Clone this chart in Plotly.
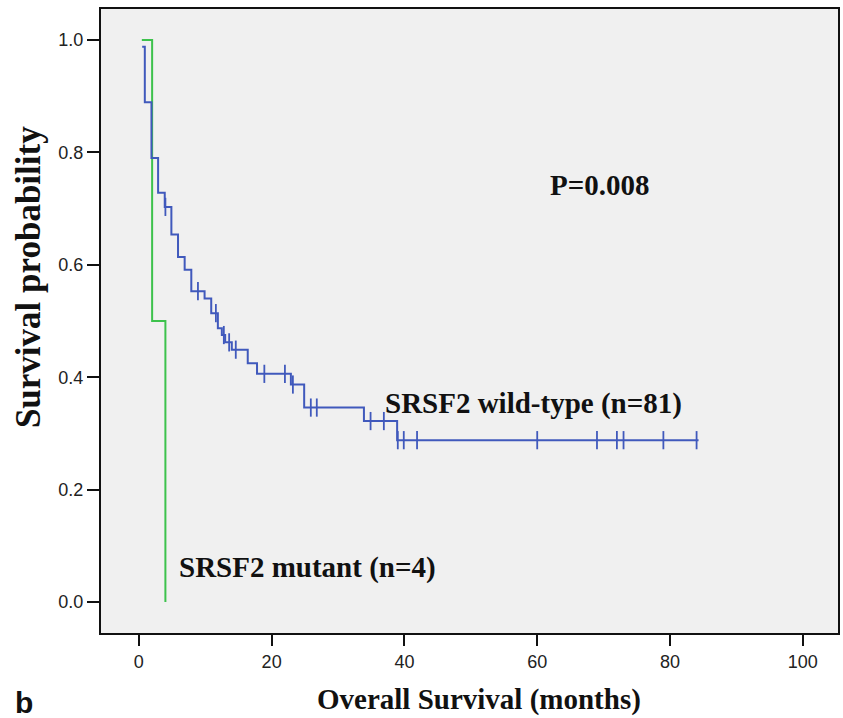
import plotly.graph_objects as go

# Kaplan-Meier step data
wt_times = [0.5, 0.9, 1.9, 2.9, 3.9, 4.9, 5.9, 6.9, 7.9, 9.9, 10.9, 11.9, 12.5, 13.0, 14.0, 16.4, 17.8, 22.9, 24.9, 33.9, 38.9, 84.3]
wt_surv = [0.988, 0.889, 0.790, 0.728, 0.703, 0.654, 0.614, 0.591, 0.553, 0.540, 0.514, 0.487, 0.475, 0.462, 0.449, 0.425, 0.406, 0.387, 0.346, 0.322, 0.288, 0.288]
wt_censor = [4.0, 8.9, 11.6, 12.8, 13.6, 14.6, 18.9, 22.0, 23.2, 25.9, 26.8, 34.9, 36.9, 39.0, 39.9, 41.9, 60.0, 69.0, 72.0, 73.0, 79.0, 84.0]

mt_times = [0.45, 2.0, 4.0]
mt_surv = [1.0, 0.5, 0.0]

x_ticks = [0, 20, 40, 60, 80, 100]
y_ticks = [0.0, 0.2, 0.4, 0.6, 0.8, 1.0]

BLUE = "#4059BC"
GREEN = "#3DC24C"


def step_at(t, times, surv):
    s = surv[0]
    for ti, si in zip(times, surv):
        if ti <= t:
            s = si
    return s


censor_s = [step_at(t, wt_times, wt_surv) for t in wt_censor]

fig = go.Figure()
fig.add_trace(go.Scatter(x=mt_times, y=mt_surv, mode="lines", line=dict(color=GREEN, width=2, shape="hv"),
                         showlegend=False, hoverinfo="skip"))
fig.add_trace(go.Scatter(x=wt_times, y=wt_surv, mode="lines", line=dict(color=BLUE, width=2, shape="hv"),
                         showlegend=False, hoverinfo="skip"))
fig.add_trace(go.Scatter(x=wt_censor, y=censor_s, mode="markers",
                         marker=dict(symbol="line-ns", size=13, line=dict(color=BLUE, width=1.8)),
                         showlegend=False, hoverinfo="skip"))

SERIF = "Liberation Serif, Times New Roman, serif"
serif_bold = dict(family=SERIF, size=29, color="#111", weight="bold")

fig.update_layout(
    width=843, height=718,
    margin=dict(l=101, r=3, t=9, b=85),
    paper_bgcolor="white", plot_bgcolor="#F0F0F0",
    xaxis=dict(range=[-5.7, 105.3], tickvals=x_ticks, ticktext=[str(v) for v in x_ticks],
               showgrid=False, zeroline=False, showline=True, mirror=True, linecolor="#111", linewidth=2,
               ticks="outside", ticklen=11, tickwidth=2, tickcolor="#111",
               tickfont=dict(family="Liberation Sans, Arial, sans-serif", size=18, color="#222")),
    yaxis=dict(range=[-0.055, 1.055], tickvals=y_ticks, ticktext=[f"{v:.1f}" for v in y_ticks],
               showgrid=False, zeroline=False, showline=True, mirror=True, linecolor="#111", linewidth=2,
               ticks="outside", ticklen=12, tickwidth=2, tickcolor="#111",
               tickfont=dict(family="Liberation Sans, Arial, sans-serif", size=18, color="#222")),
    annotations=[
        dict(text="<b>P=0.008</b>", x=69.4, y=0.742, xref="x", yref="y", showarrow=False, font=serif_bold),
        dict(text="<b>SRSF2 wild-type (n=81)</b>", x=36.7, y=0.354, xref="x", yref="y", xanchor="left",
             showarrow=False, font=serif_bold),
        dict(text="<b>SRSF2 mutant (n=4)</b>", x=5.8, y=0.062, xref="x", yref="y", xanchor="left",
             showarrow=False, font=serif_bold),
        dict(text="<b>Overall Survival (months)</b>", x=0.513, y=-0.107, xref="paper", yref="paper",
             xanchor="center", yanchor="middle", showarrow=False, font=serif_bold),
        dict(text="<b>Survival probability</b>", x=-0.098, y=0.57, xref="paper", yref="paper", textangle=-90,
             xanchor="center", yanchor="middle", showarrow=False,
             font=dict(family=SERIF, size=35, color="#111", weight="bold")),
        dict(text="<b>b</b>", x=-0.105, y=-0.112, xref="paper", yref="paper",
             xanchor="center", yanchor="middle", showarrow=False,
             font=dict(family="Liberation Sans, Arial, sans-serif", size=30, color="#111")),
    ],
)

fig.write_html("out.html")
